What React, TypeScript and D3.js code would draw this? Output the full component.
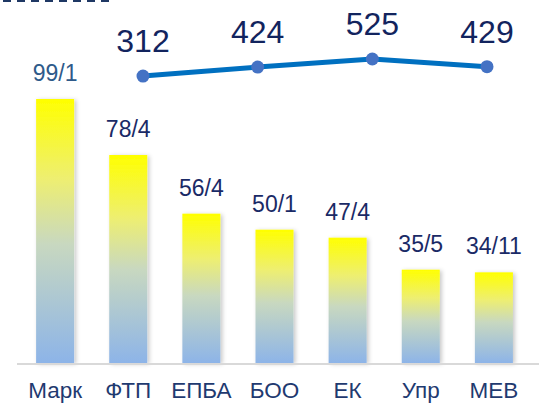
import { useEffect, useRef } from 'react';
import * as d3 from 'd3';

// bar series: category, main value, second number in the label
const categories = ['Марк', 'ФТП', 'ЕПБА', 'БОО', 'ЕК', 'Упр', 'МЕВ'];
const barValues = [99, 78, 56, 50, 47, 35, 34];
const barSecond = [1, 4, 4, 1, 4, 5, 11];

// line series across the top
const lineKeys = ['p1', 'p2', 'p3', 'p4'];
const lineValues = [312, 424, 525, 429];

const W = 539;
const H = 403;
const FONT = '"Liberation Sans", Arial, sans-serif';

export default function App() {
  const svgRef = useRef<SVGSVGElement>(null);

  useEffect(() => {
    if (!svgRef.current) return;
    const svg = d3.select(svgRef.current);
    svg.selectAll('*').remove();

    const defs = svg.append('defs');
    const grad = defs.append('linearGradient')
      .attr('id', 'barGrad')
      .attr('x1', 0).attr('y1', 0).attr('x2', 0).attr('y2', 1);
    grad.append('stop').attr('offset', '0%').attr('stop-color', '#ffff00');
    grad.append('stop').attr('offset', '30%').attr('stop-color', '#eeef70');
    grad.append('stop').attr('offset', '55%').attr('stop-color', '#c8d8c0');
    grad.append('stop').attr('offset', '100%').attr('stop-color', '#8db4e8');

    const shadow = defs.append('filter')
      .attr('id', 'barShadow')
      .attr('x', '-20%').attr('y', '-5%').attr('width', '150%').attr('height', '115%');
    shadow.append('feDropShadow')
      .attr('dx', 2).attr('dy', 1)
      .attr('stdDeviation', 2)
      .attr('flood-color', '#000')
      .attr('flood-opacity', 0.22);

    const baseY = 363;

    // scales
    const x = d3.scaleBand<string>()
      .domain(categories)
      .range([1, 548])
      .padding(0.48);

    const y = d3.scaleLinear()
      .domain([0, 99])
      .range([baseY, 99]);

    const xLine = d3.scalePoint<string>()
      .domain(lineKeys)
      .range([143, 487]);

    const yLine = d3.scaleLinear()
      .domain([0, 600])
      .range([101, 53]);

    // dashed rule at top left
    svg.append('line')
      .attr('x1', 3).attr('x2', 111)
      .attr('y1', 1).attr('y2', 1)
      .attr('stroke', '#1f3864')
      .attr('stroke-width', 2)
      .attr('stroke-dasharray', '8,6');

    // bars
    svg.append('g')
      .selectAll('rect')
      .data(barValues)
      .enter().append('rect')
      .attr('x', (_, i) => x(categories[i])!)
      .attr('y', d => y(d))
      .attr('width', x.bandwidth())
      .attr('height', d => baseY - y(d))
      .attr('fill', 'url(#barGrad)')
      .attr('filter', 'url(#barShadow)');

    // axis baseline
    svg.append('line')
      .attr('x1', 17).attr('x2', W)
      .attr('y1', baseY + 1).attr('y2', baseY + 1)
      .attr('stroke', '#d9d9d9')
      .attr('stroke-width', 2);

    // bar labels
    svg.append('g')
      .selectAll('text')
      .data(barValues)
      .enter().append('text')
      .attr('x', (_, i) => x(categories[i])! + x.bandwidth() / 2)
      .attr('y', d => y(d) - 18)
      .attr('text-anchor', 'middle')
      .attr('font-family', FONT)
      .attr('font-size', 23)
      .attr('fill', (_, i) => (i === 0 ? '#2e5a8a' : '#1a2a66'))
      .text((d, i) => `${d}/${barSecond[i]}`);

    // category labels
    svg.append('g')
      .selectAll('text')
      .data(categories)
      .enter().append('text')
      .attr('x', d => x(d)! + x.bandwidth() / 2)
      .attr('y', 398)
      .attr('text-anchor', 'middle')
      .attr('font-family', FONT)
      .attr('font-size', 22.5)
      .attr('fill', '#1f3a70')
      .text(d => d);

    // line series
    const line = d3.line<number>()
      .x((_, i) => xLine(lineKeys[i])!)
      .y(d => yLine(d));

    svg.append('path')
      .datum(lineValues)
      .attr('d', line)
      .attr('fill', 'none')
      .attr('stroke', '#0070c0')
      .attr('stroke-width', 5);

    svg.append('g')
      .selectAll('circle')
      .data(lineValues)
      .enter().append('circle')
      .attr('cx', (_, i) => xLine(lineKeys[i])!)
      .attr('cy', d => yLine(d))
      .attr('r', 6.5)
      .attr('fill', '#4472c4');

    svg.append('g')
      .selectAll('text')
      .data(lineValues)
      .enter().append('text')
      .attr('x', (_, i) => xLine(lineKeys[i])!)
      .attr('y', d => yLine(d) - 24)
      .attr('text-anchor', 'middle')
      .attr('font-family', FONT)
      .attr('font-size', 32)
      .attr('fill', '#12245e')
      .text(d => d);
  }, []);

  return (
    <svg
      ref={svgRef}
      width={W}
      height={H}
      style={{ position: 'absolute', left: 0, top: 0, background: '#fff' }}
    />
  );
}
